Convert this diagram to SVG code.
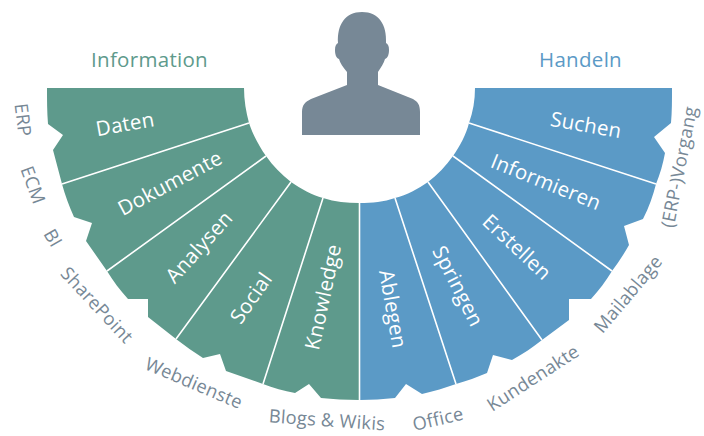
<svg xmlns="http://www.w3.org/2000/svg" width="704" height="436" viewBox="0 0 704 436">
<style>
text{font-family:"Open Sans","Noto Sans","Liberation Sans",sans-serif;text-anchor:middle}
.g{fill:#5e9a8c}.b{fill:#5b9ac6}
.in{fill:#fff;font-size:20.5px;letter-spacing:.25px}
.out{fill:#778896;font-size:18.3px;letter-spacing:.25px}
.t{font-size:20.500px;letter-spacing:.3px}
.sep{stroke:#fff;stroke-width:1.6;fill:none}
</style>
<rect width="704" height="436" fill="#fff"/>
<g id="person"><path d="M302 135V112C302 105 305 102 311 99L347 85V72C343 67 340 63 339 59C336 58 335 54 335 50C335 46 336 44 338 43C337 25 345 12 362 12C379 12 387 25 386 43C388 44 389 46 389 50C389 54 388 58 385 59C384 63 381 67 378 72V85L413 99C418 102 420 105 420 112V135Z" fill="#778896"/></g>
<g id="title-information"><text class="t g" x="149.500" y="67">Information</text></g>
<g id="title-handeln"><text class="t b" x="580.500" y="67">Handeln</text></g>
<g id="daten"><path class="g" d="M47 88H244C244 100 246 112 249 123L62 184L53 150L63 135L48 124C47 112 47 100 47 88Z"/><text class="in" transform="translate(125 124) rotate(-10)" dy=".35em">Daten</text><text class="out" transform="translate(23 120) rotate(83)" dy=".35em">ERP</text></g>
<g id="dokumente"><path class="g" d="M62 184L249 123C253 135 259 146 266 156L107 271L86 241L92 223L74 217C69 206 65 195 62 184Z"/><text class="in" transform="translate(170 183) rotate(-28)" dy=".35em">Dokumente</text><text class="out" transform="translate(33 185) rotate(70)" dy=".35em">ECM</text></g>
<g id="analysen"><path class="g" d="M107 271L266 156C273 166 281 174 291 182L176 339L148 317V299H128C120 290 113 281 107 271Z"/><text class="in" transform="translate(199 247) rotate(-48)" dy=".35em">Analysen</text><text class="out" transform="translate(53 238) rotate(60)" dy=".35em">BI</text><text class="out" transform="translate(97 305) rotate(47)" dy=".35em">SharePoint</text></g>
<g id="social"><path class="g" d="M176 339L291 182C301 189 312 195 323 198L263 384L226 371L220 354L203 358C194 352 185 346 176 339Z"/><text class="in" transform="translate(251 298) rotate(-55)" dy=".35em">Social</text><text class="out" transform="translate(194 383) rotate(23)" dy=".35em">Webdienste</text></g>
<g id="knowledge"><path class="g" d="M263 384L323 198C335 202 347 203 359 203V400C346 400 333 399 321 398L309 384L295 393C284 391 273 388 263 384Z"/><text class="in" transform="translate(323 297) rotate(-78)" dy=".35em">Knowledge</text><text class="out" transform="translate(327 420) rotate(4)" dy=".35em">Blogs &amp; Wikis</text></g>
<g id="ablegen"><path class="b" d="M360 203C372 203 384 202 395 198L456 384C445 388 434 391 422 394L406 384L395 398C383 399 372 400 360 400Z"/><text class="in" transform="translate(393 309) rotate(80)" dy=".35em">Ablegen</text><text class="out" transform="translate(438 419) rotate(-13)" dy=".35em">Office</text></g>
<g id="springen"><path class="b" d="M395 198C407 195 418 189 428 182L542 340C533 347 523 354 512 360L493 355L487 373C477 377 467 381 456 384Z"/><text class="in" transform="translate(458 286) rotate(63)" dy=".35em">Springen</text><text class="out" transform="translate(533 378) rotate(-33)" dy=".35em">Kundenakte</text></g>
<g id="erstellen"><path class="b" d="M428 182C437 175 446 166 453 156L612 271C606 281 599 290 591 299H569V320L542 340Z"/><text class="in" transform="translate(517 247) rotate(43)" dy=".35em">Erstellen</text><text class="out" transform="translate(628 294) rotate(-50)" dy=".35em">Mailablage</text></g>
<g id="informieren"><path class="b" d="M453 156C460 146 466 135 469 123L656 184C653 196 649 207 643 219L624 226L629 245C624 254 618 263 612 271Z"/><text class="in" transform="translate(546 182) rotate(22)" dy=".35em">Informieren</text></g>
<g id="suchen"><path class="b" d="M469 123C473 112 475 100 475 88H672C672 100 672 112 671 123L654 137L665 153C663 164 660 174 656 184Z"/><text class="in" transform="translate(586 125) rotate(10)" dy=".35em">Suchen</text><text class="out" transform="translate(679 167) rotate(-79)" dy=".35em">(ERP-)Vorgang</text></g>
<g id="connectors" class="sep"><path d="M62 184L249 123M107 271L266 156M176 339L291 182M263 384L323 198M359.500 203V400M395 198L456 384M428 182L542 340M453 156L612 271M469 123L656 184"/></g>
</svg>
